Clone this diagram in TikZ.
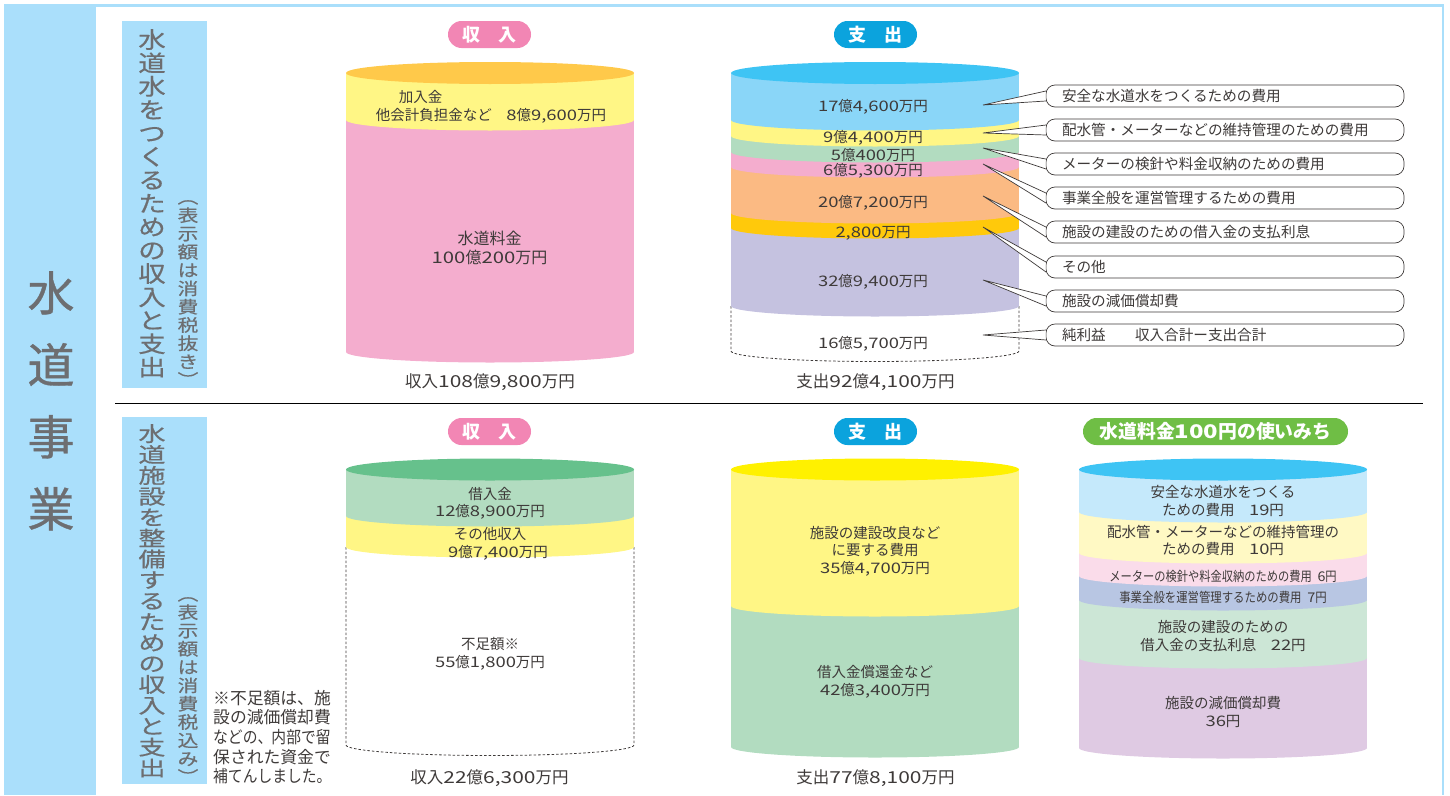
\documentclass[tikz,border=0pt]{standalone}
\usepackage{fontspec}
\setmainfont{Noto Sans CJK JP}
\newfontfamily\headfont[FakeBold=.8]{Noto Sans CJK JP}
\newfontfamily\tallfont[FakeStretch=1.22,FakeBold=.5]{Noto Sans CJK JP}
\newfontfamily\squatfont[FakeStretch=1.32,FakeBold=.5]{Noto Sans CJK JP}
\newfontfamily\widefont[FakeStretch=1.27]{Noto Sans CJK JP}
% digits come out wider than the kana
\XeTeXinterchartokenstate=1
\newXeTeXintercharclass\figclass
\XeTeXcharclass`0=\figclass \XeTeXcharclass`1=\figclass \XeTeXcharclass`2=\figclass
\XeTeXcharclass`3=\figclass \XeTeXcharclass`4=\figclass \XeTeXcharclass`5=\figclass
\XeTeXcharclass`6=\figclass \XeTeXcharclass`7=\figclass \XeTeXcharclass`8=\figclass
\XeTeXcharclass`9=\figclass \XeTeXcharclass`,=\figclass
\XeTeXinterchartoks 0 \figclass = {\begingroup\widefont}
\XeTeXinterchartoks 4095 \figclass = {\begingroup\widefont}
\XeTeXinterchartoks \figclass 0 = {\endgroup}
\XeTeXinterchartoks \figclass 4095 = {\endgroup}
\definecolor{skyblock}{HTML}{AADFFB}
\definecolor{inkgray}{HTML}{6D6E71}
\definecolor{inkdark}{HTML}{3E3A39}
\definecolor{topblue}{HTML}{3EC4F4}
\definecolor{topamber}{HTML}{FFC94A}
\definecolor{topgreen}{HTML}{66C18C}
\definecolor{topyellow}{HTML}{FFF100}
\definecolor{bandblue}{HTML}{8AD6F8}
\definecolor{bandyellow}{HTML}{FFF685}
\definecolor{bandgreen}{HTML}{B2DCC0}
\definecolor{bandpink}{HTML}{F4ADCE}
\definecolor{bandorange}{HTML}{FBBA83}
\definecolor{bandamber}{HTML}{FFC90B}
\definecolor{bandpurple}{HTML}{C5C2E0}
\definecolor{paleblue}{HTML}{C5E9FB}
\definecolor{paleyellow}{HTML}{FFF9C4}
\definecolor{palepink}{HTML}{FADCEA}
\definecolor{palesteel}{HTML}{B8C6E3}
\definecolor{palegreen}{HTML}{CCE6D6}
\definecolor{palelilac}{HTML}{DFCAE3}
\definecolor{pillpink}{HTML}{F286B4}
\definecolor{pillblue}{HTML}{0BA3DD}
\definecolor{pillgreen}{HTML}{6FBE45}
% one slice of a can: flat top, curved bottom
\newcommand{\canband}[4]{
  \fill[#4] (#1,#2) rectangle (#1+288,#3);
  \fill[#4] (#1+144,#3) ellipse [x radius=144, y radius=10.5];
}
\newcommand{\cantop}[3]{
  \fill[#3] (#1+144,#2) ellipse [x radius=144, y radius=11];
}
\newcommand{\canopen}[3]{
  \draw[line width=.8pt, inkdark, dash pattern=on 2.5pt off 2pt]
    (#1,#2) -- (#1,#3) arc [start angle=180, end angle=360, x radius=144, y radius=-10.5] -- (#1+288,#2);
}
\tikzset{
  money/.style={font=\fontsize{14.5}{17.5}\selectfont, text=inkdark, align=center, inner sep=0pt, yshift=-1pt},
  sumup/.style={money, font=\fontsize{16.5}{17.5}\selectfont},
  pill/.style={rounded corners=13.5pt, minimum height=27pt, text=white, inner sep=0pt,
    font=\fontsize{18}{18}\bfseries\selectfont},
  bill/.style={draw=inkdark, line width=.7pt, fill=white, rounded corners=9pt, minimum width=358pt,
    minimum height=22pt, text width=326pt, inner sep=0pt, align=left, text=inkdark,
    font=\fontsize{14.6}{14.6}\selectfont},
  stem/.style={draw=inkdark, line width=.7pt},
  vtitle/.style={align=center, text=inkgray, inner sep=0pt, anchor=north},
}
\begin{document}
\begin{tikzpicture}[x=1pt, y=-1pt]
\useasboundingbox (0,0) rectangle (1450,795);
\fill[skyblock] (4,4) rectangle (1444,7);
\fill[skyblock] (1442,4) rectangle (1444,795);
\fill[skyblock] (4,4) rectangle (96,795);
\node[vtitle, font=\headfont\fontsize{47}{72}\selectfont] (mainTitle) at (51,271)
  {水\\道\\事\\業};
\draw[line width=.7pt] (115,403) -- (1423,403);

% side blocks
\fill[skyblock] (122,21) rectangle (207,388);
\fill[skyblock] (122,417) rectangle (207,784);
\node[vtitle, font=\tallfont\fontsize{22.5}{23.4}\selectfont] (titleA) at (152,29)
  {水\\道\\水\\を\\つ\\く\\る\\た\\め\\の\\収\\入\\と\\支\\出};
\node[vtitle, font=\tallfont\fontsize{17}{18.3}\selectfont] (noteA) at (188,200)
  {︵\\表\\示\\額\\は\\消\\費\\税\\抜\\き\\︶};
\node[vtitle, font=\squatfont\fontsize{20.5}{20.9}\selectfont] (titleB) at (152,424)
  {水\\道\\施\\設\\を\\整\\備\\す\\る\\た\\め\\の\\収\\入\\と\\支\\出};
\node[vtitle, font=\tallfont\fontsize{17}{18.3}\selectfont] (noteB) at (188,597)
  {︵\\表\\示\\額\\は\\消\\費\\税\\込\\み\\︶};
\node[anchor=north west, align=left, inner sep=0pt, text=inkdark,
  font=\fontsize{16.8}{19.6}\selectfont] (remark) at (213,690)
  {※不足額は、施\\設の減価償却費\\\scalebox{.88}[1]{などの、\hspace{-1pt}内部で留}\\保された資金で\\\scalebox{.88}[1]{補てんしました。}};

% pills
\node[pill, fill=pillpink, minimum width=83pt] (inA) at (489.5,34.5) {収\quad 入};
\node[pill, fill=pillblue, minimum width=83pt] (outA) at (875.5,34.5) {支\quad 出};
\node[pill, fill=pillpink, minimum width=83pt] (inB) at (489.5,431.5) {収\quad 入};
\node[pill, fill=pillblue, minimum width=83pt] (outB) at (875.5,431.5) {支\quad 出};
\node[pill, fill=pillgreen, minimum width=265pt, font=\fontsize{18.8}{18.8}\bfseries\selectfont] (useC) at (1215.5,431.5) {水道料金100円の使いみち};

% upper income can
\canband{346}{120}{352}{bandpink}
\canband{346}{73}{120}{bandyellow}
\cantop{346}{73}{topamber}
\node[money, align=left] (incomeA) at (491,106) {\hspace{23pt}加入金\\他会計負担金など\quad 8億9,600万円};
\node[money, font=\fontsize{16}{18.5}\selectfont] (incomeB) at (489.5,247) {水道料金\\100億200万円};
\node[sumup] (totalA) at (490,381.5) {収入108億9,800万円};

% upper spending can
\canopen{731}{306}{351}
\canband{731}{228}{306}{bandpurple}
\canband{731}{213}{228}{bandamber}
\canband{731}{167}{213}{bandorange}
\canband{731}{152}{167}{bandpink}
\canband{731}{136}{152}{bandgreen}
\canband{731}{120}{136}{bandyellow}
\canband{731}{73}{120}{bandblue}
\cantop{731}{73}{topblue}
\node[money] (costA) at (873,106) {17億4,600万円};
\node[money] (costB) at (873,137) {9億4,400万円};
\node[money] (costC) at (873,154) {5億400万円};
\node[money] (costD) at (873,170) {6億5,300万円};
\node[money] (costE) at (873,202) {20億7,200万円};
\node[money] (costF) at (873,232) {2,800万円};
\node[money] (costG) at (873,281) {32億9,400万円};
\node[money] (costH) at (873,343) {16億5,700万円};
\node[sumup] (totalB) at (875.5,381.5) {支出92億4,100万円};

% callouts
\foreach \name/\ypos/\tipy/\label in {
  billA/96/105/安全な水道水をつくるための費用,
  billB/130/133/配水管・メーターなどの維持管理のための費用,
  billC/164/148/メーターの検針や料金収納のための費用,
  billD/198/164/事業全般を運営管理するための費用,
  billE/232/196/施設の建設のための借入金の支払利息,
  billF/267/227/その他,
  billG/301/280/施設の減価償却費,
  billH/335/335/純利益\quad\quad 収入合計ー支出合計}{
  \node[bill] (\name) at (1225,\ypos) {\raisebox{-1pt}{\label}};
  \coordinate (\name tip) at (983,\tipy);
  \fill[white] (\name tip) -- ([yshift=5pt]\name.west) -- ([yshift=-5pt]\name.west) -- cycle;
  \draw[stem] ([yshift=5pt,xshift=.3pt]\name.west) -- (\name tip) -- ([yshift=-5pt,xshift=.3pt]\name.west);
}

% lower income can
\canopen{346}{547}{745}
\canband{346}{516}{547}{bandyellow}
\canband{346}{470}{516}{bandgreen}
\cantop{346}{469.5}{topgreen}
\node[money] (loanA) at (490,502.5) {借入金\\12億8,900万円};
\node[money] (loanB) at (490,543) {その他収入\\\hspace{16pt}9億7,400万円};
\node[money] (loanC) at (490,653) {不足額※\\55億1,800万円};
\node[sumup] (totalC) at (489.5,777.5) {収入22億6,300万円};

% lower spending can
\canband{731}{606}{747}{bandgreen}
\canband{731}{470}{606}{bandyellow}
\cantop{731}{469.5}{topyellow}
\node[money] (buildA) at (875,550) {施設の建設改良など\\に要する費用\\35億4,700万円};
\node[money] (buildB) at (875,681) {借入金償還金など\\42億3,400万円};
\node[sumup] (totalD) at (875.5,777.5) {支出77億8,100万円};

% hundred yen can
\canband{1079}{658}{748}{palelilac}
\canband{1079}{600}{658}{palegreen}
\canband{1079}{576}{600}{palesteel}
\canband{1079}{553}{576}{palepink}
\canband{1079}{512}{553}{paleyellow}
\canband{1079}{470}{512}{paleblue}
\cantop{1079}{469.5}{topblue}
\node[money] (useA) at (1223,500) {安全な水道水をつくる\\ための費用\quad 19円};
\node[money] (useB) at (1223,539.5) {配水管・メーターなどの維持管理の\\ための費用\quad 10円};
\node[money, font=\fontsize{13.4}{14}\selectfont] (useD) at (1223,575) {\scalebox{.84}[1]{メーターの検針や料金収納のための費用\enspace 6円}};
\node[money, font=\fontsize{13.4}{14}\selectfont] (useE) at (1223,596) {\scalebox{.85}[1]{事業全般を運営管理するための費用\enspace 7円}};
\node[money] (useF) at (1223,635) {施設の建設のための\\借入金の支払利息\quad 22円};
\node[money] (useG) at (1223,711) {施設の減価償却費\\36円};
\end{tikzpicture}
\end{document}
